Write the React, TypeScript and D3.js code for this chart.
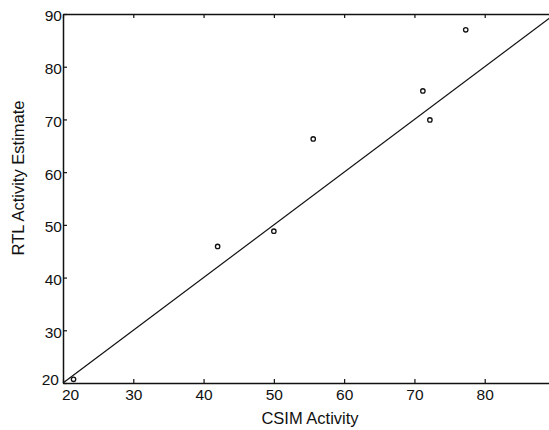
import { useEffect, useRef } from 'react';
import * as d3 from 'd3';

// CSIM activity vs RTL estimate
const csim = [21.5, 42, 50, 55.6, 71.2, 72.2, 77.3];
const rtl = [20.7, 45.9, 48.8, 66.3, 75.4, 69.9, 87.0];
const xTicks = [20, 30, 40, 50, 60, 70, 80];
const yTicks = [20, 30, 40, 50, 60, 70, 80, 90];
const fitLine = [20, 90];

const App = () => {
  const ref = useRef<SVGSVGElement>(null);

  useEffect(() => {
    const svg = d3.select(ref.current);
    svg.selectAll('*').remove();

    const left = 63, right = 555, top = 14, bottom = 383;

    const x = d3.scaleLinear().domain([20, 90]).range([left, right]);
    const y = d3.scaleLinear().domain([20, 90]).range([bottom, top]);

    const font = 'Liberation Sans, Arial, sans-serif';

    // y axis
    const yAxis = d3.axisLeft(y).tickValues(yTicks).tickSizeInner(-4).tickSizeOuter(0);
    const gy = svg.append('g').attr('transform', `translate(${left},0)`).call(yAxis);
    gy.selectAll('text').attr('x', -1).attr('dy', '0.45em')
      .style('font-size', '15.5px').style('font-family', font).attr('fill', '#111');
    // corner label sits above the x axis in the original
    gy.selectAll<SVGTextElement, number>('text').filter(d => d === 20).attr('dy', '0.1em').attr('x', -4);

    // x axis
    const xAxis = d3.axisBottom(x).tickValues(xTicks).tickSizeInner(-4).tickSizeOuter(0);
    const gx = svg.append('g').attr('transform', `translate(0,${bottom})`).call(xAxis);
    gx.selectAll('text').attr('y', 17).attr('dy', 0)
      .style('font-size', '15.5px').style('font-family', font).attr('fill', '#111');
    gx.selectAll<SVGTextElement, number>('text').filter(d => d === 20).attr('x', 7);

    // top spine with inward ticks
    const topAxis = d3.axisTop(x).tickValues(xTicks).tickSizeInner(-4).tickSizeOuter(0).tickFormat(() => '');
    svg.append('g').attr('transform', `translate(0,${top})`).call(topAxis);

    svg.selectAll('.domain').attr('stroke', '#111').attr('stroke-width', 1.5);
    svg.selectAll('.tick line').attr('stroke', '#111').attr('stroke-width', 1.2);

    // reference line
    svg.append('line')
      .attr('x1', x(fitLine[0])).attr('y1', y(fitLine[0]))
      .attr('x2', x(fitLine[1])).attr('y2', y(fitLine[1]))
      .attr('stroke', '#111').attr('stroke-width', 1.2);

    // points
    svg.append('g').selectAll('circle').data(csim)
      .enter().append('circle')
      .attr('cx', d => x(d))
      .attr('cy', (d, i) => y(rtl[i]))
      .attr('r', 2.2)
      .attr('fill', 'white')
      .attr('stroke', '#111')
      .attr('stroke-width', 1.3);

    // axis titles
    svg.append('text').text('CSIM Activity')
      .attr('x', 310).attr('y', 424)
      .attr('text-anchor', 'middle')
      .style('font-size', '16.5px').style('font-family', font).attr('fill', '#111');

    svg.append('text').text('RTL Activity Estimate')
      .attr('transform', `translate(24,178) rotate(-90)`)
      .attr('text-anchor', 'middle')
      .style('font-size', '16.5px').style('font-family', font).attr('fill', '#111');
  }, []);

  return (
    <div>
      <svg ref={ref} width={549} height={430}
        style={{ position: 'absolute', left: 0, top: 0, background: 'white' }} />
    </div>
  );
};

export default App;
